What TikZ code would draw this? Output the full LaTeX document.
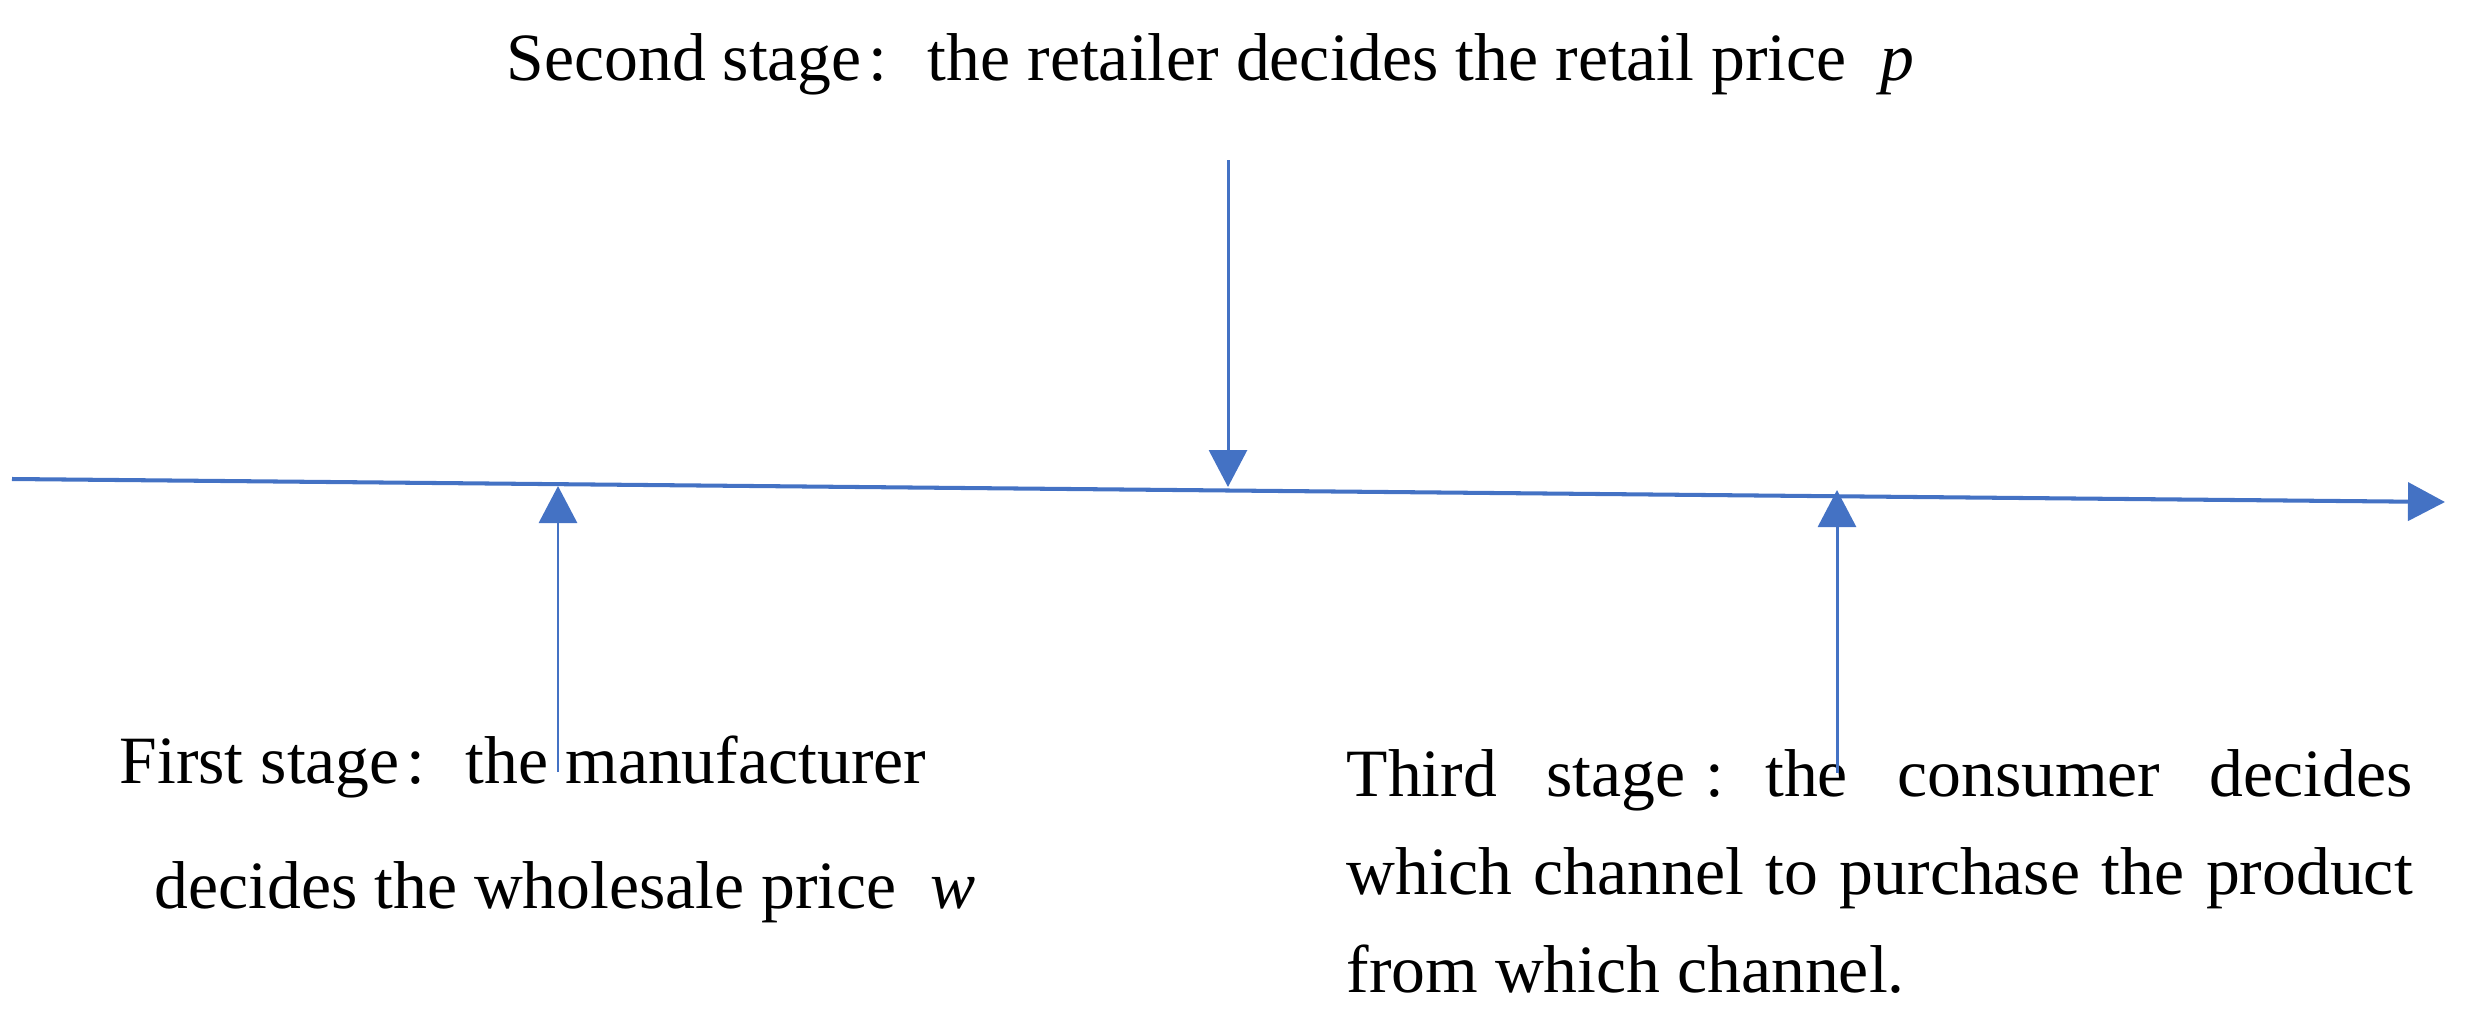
\documentclass[tikz,border=0pt]{standalone}
\usepackage{fontspec}
\setmainfont{Liberation Serif}
\usepackage{tikz}
\usetikzlibrary{arrows.meta, positioning}
\definecolor{stageblue}{HTML}{4472C4}

\begin{document}
\begin{tikzpicture}[
  stage/.style={inner sep=0pt, font=\fontsize{19.25}{27.9}\selectfont},
  axis/.style={-{Triangle[length=0.37cm, width=0.38cm]}, stageblue, line width=1.15pt},
  arrow/.style={-{Triangle[length=0.37cm, width=0.38cm]}, stageblue, line width=0.85pt}
]
  \useasboundingbox (0,0) rectangle (24.81,-10.27);

  \node[stage, anchor=base west] (second) at (5.06,-0.80) {Second stage\kern0.1em:\hspace{0.6em}the retailer decides the retail price\ \ \textit{p}};

  \node[stage, anchor=base west] (first) at (1.19,-7.83) {First stage\kern0.1em:\hspace{0.6em}the manufacturer};
  \node[stage, anchor=base west] (firstb) at (1.54,-9.08) {decides the wholesale price\ \ \textit{w}};

  \node[stage, anchor=north west, text width=10.66cm, align=justify] (third) at (13.46,-7.49) {Third stage\kern0.3em:\hspace{0.6em}the consumer decides\linebreak which channel to purchase the product\linebreak from which channel.};

  % time line
  \coordinate (t0) at (0.12,-4.79);
  \coordinate (tn) at (24.45,-5.02);
  \draw[axis] (t0) -- (tn);

  % stage arrows
  \coordinate (from1) at (5.58,-7.72);
  \coordinate (on1) at (5.58,-4.86);
  \coordinate (from2) at (12.28,-1.60);
  \coordinate (on2) at (12.28,-4.87);
  \coordinate (from3) at (18.37,-7.73);
  \coordinate (on3) at (18.37,-4.90);

  \draw[arrow] (from1) -- (on1);
  \draw[arrow] (from2) -- (on2);
  \draw[arrow] (from3) -- (on3);
\end{tikzpicture}
\end{document}
